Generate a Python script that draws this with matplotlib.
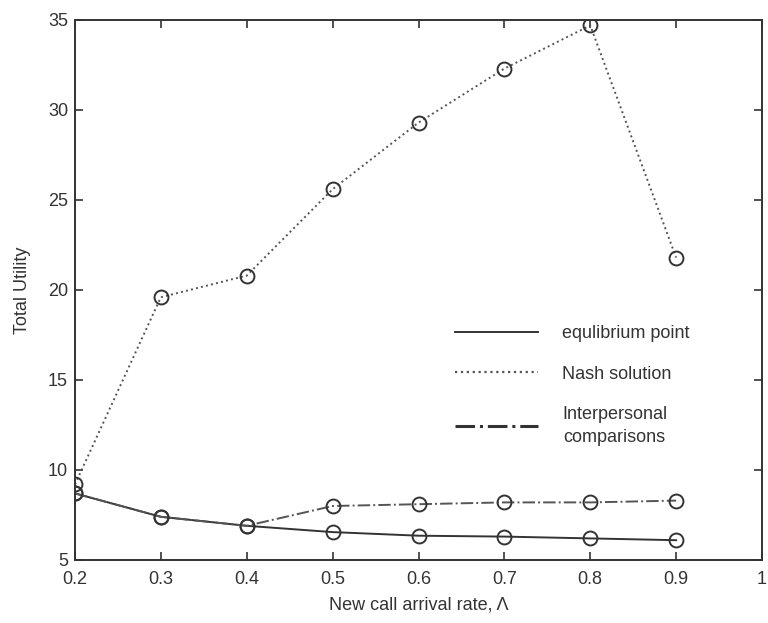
import matplotlib
matplotlib.use('Agg')
import matplotlib.pyplot as plt
from matplotlib.lines import Line2D

plt.rcParams['font.family'] = ['Liberation Sans', 'DejaVu Sans']

x = [0.2, 0.3, 0.4, 0.5, 0.6, 0.7, 0.8, 0.9]
equilibrium = [8.7, 7.4, 6.9, 6.55, 6.35, 6.3, 6.2, 6.1]
nash = [9.2, 19.6, 20.8, 25.6, 29.3, 32.3, 34.7, 21.8]
interpersonal = [8.7, 7.4, 6.9, 8.0, 8.1, 8.2, 8.2, 8.3]

xticks = [0.2, 0.3, 0.4, 0.5, 0.6, 0.7, 0.8, 0.9, 1.0]
xticklabels = ['0.2', '0.3', '0.4', '0.5', '0.6', '0.7', '0.8', '0.9', '1']
yticks = [5, 10, 15, 20, 25, 30, 35]

c = '#333333'
fig = plt.figure(figsize=(7.68, 6.23), dpi=100)
ax = fig.add_axes([75/768, 1 - 560/623, (762-75)/768, (560-20)/623])

ax.plot(x, equilibrium, '-', color=c, lw=1.4, marker='o', mfc='none', ms=10, mew=1.4,
        label='equlibrium point')
ax.plot(x, nash, ':', color='#555555', lw=1.4, marker='o', mfc='none', ms=10, mew=1.4,
        mec=c, label='Nash solution')
ax.plot(x, interpersonal, '-.', color='#555555', lw=1.4, marker='o', mfc='none', ms=10,
        mew=1.4, mec=c, label='Interpersonal\ncomparisons')

ax.set_xlim(0.2, 1.0)
ax.set_ylim(5, 35)
ax.set_xticks(xticks)
ax.set_xticklabels(xticklabels)
ax.set_yticks(yticks)
ax.tick_params(direction='in', top=True, right=True, labelsize=13, colors='#333333',
               length=6, width=1.2)
ax.tick_params(axis='x', pad=8)
ax.tick_params(axis='y', pad=5)
for s in ax.spines.values():
    s.set_color('#333333')
    s.set_linewidth(1.4)

ax.set_xlabel('New call arrival rate, Λ', fontsize=13, color='#333333', labelpad=6)
ax.set_ylabel('Total Utility', fontsize=13, color='#333333', labelpad=12)

# legend: line samples only, no markers
handles = [Line2D([], [], color=c, ls='-', lw=1.4),
           Line2D([], [], color='#555555', ls=':', lw=1.6),
           Line2D([], [], color=c, ls='-.', lw=2.2)]
labels = ['equlibrium point', 'Nash solution', 'Interpersonal\ncomparisons']
leg = ax.legend(handles, labels, loc='upper left', bbox_to_anchor=(0.53, 0.465),
                frameon=False, fontsize=13, handlelength=4.6, handletextpad=1.3,
                labelspacing=1.3)
for t in leg.get_texts():
    t.set_color('#333333')
    t.set_multialignment('center')
    t.set_linespacing(1.45)

fig.savefig('out.png', dpi=100)
